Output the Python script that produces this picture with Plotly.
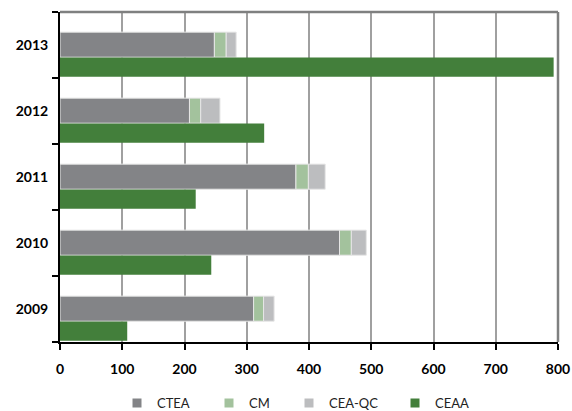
import plotly.graph_objects as go

years = ["2009", "2010", "2011", "2012", "2013"]
ctea = [311, 449, 379, 208, 248]
cm = [16, 19, 20, 18, 19]
cea_qc = [17, 24, 27, 31, 16]
ceaa = [108, 243, 218, 328, 793]
x_ticks = [0, 100, 200, 300, 400, 500, 600, 700, 800]
series_names = ["CTEA", "CM", "CEA-QC", "CEAA"]

pos = list(range(len(years)))
base_cm = ctea
base_qc = [a + b for a, b in zip(ctea, cm)]

c_ctea = "#838487"
c_cm = "#a3c29d"
c_qc = "#bcbdbf"
c_ceaa = "#437f3b"
colors = [c_ctea, c_cm, c_qc, c_ceaa]

stack_w, stack_off = 0.38, -0.185
g_w, g_off = 0.29, -0.48

fig = go.Figure()
outline = dict(color="#e6e6e6", width=1)
fig.add_trace(go.Bar(y=pos, x=ctea, orientation="h", name="CTEA", showlegend=False,
                     marker=dict(color=c_ctea, line=outline), width=stack_w, offset=stack_off))
fig.add_trace(go.Bar(y=pos, x=cm, base=base_cm, orientation="h", name="CM", showlegend=False,
                     marker=dict(color=c_cm, line=outline), width=stack_w, offset=stack_off))
fig.add_trace(go.Bar(y=pos, x=cea_qc, base=base_qc, orientation="h", name="CEA-QC", showlegend=False,
                     marker=dict(color=c_qc, line=outline), width=stack_w, offset=stack_off))
fig.add_trace(go.Bar(y=pos, x=ceaa, orientation="h", name="CEAA", showlegend=False,
                     marker=dict(color=c_ceaa, line=dict(width=0)), width=g_w, offset=g_off))

# legend entries (one legend per entry so spacing matches the original)
legend_names = ["legend", "legend2", "legend3", "legend4"]
text_starts_px = [157, 249, 329, 435]
plot_left, plot_w = 60, 498
for name, col, lg in zip(series_names, colors, legend_names):
    fig.add_trace(go.Scatter(x=[None], y=[None], mode="markers", name=name, legend=lg,
                             marker=dict(symbol="square", size=9, color=col), showlegend=True))

legend_common = dict(orientation="h", y=-0.185, yanchor="middle", xanchor="left",
                     font=dict(size=13, color="#222222"), itemwidth=30,
                     bgcolor="rgba(0,0,0,0)", borderwidth=0)
legend_layout = {}
for lg, tx in zip(legend_names, text_starts_px):
    legend_layout[lg] = dict(legend_common, x=(tx - 40 - plot_left) / plot_w)

fig.update_layout(
    barmode="overlay",
    width=572, height=411,
    margin=dict(l=60, r=14, t=12, b=69, autoexpand=False),
    paper_bgcolor="white", plot_bgcolor="white",
    font=dict(family="Lato, 'Open Sans', sans-serif", size=13, color="#000000"),
    xaxis=dict(range=[0, 800], tickvals=x_ticks, showgrid=True, gridcolor="#a0a0a0",
               gridwidth=1.5, showline=True, linecolor="#000000", linewidth=2,
               ticks="outside", ticklen=6, tickcolor="#000000", tickwidth=2,
               ticklabelstandoff=7,
               tickfont=dict(size=14, family="Lato, sans-serif", weight="bold"),
               zeroline=False, fixedrange=True, automargin=False),
    yaxis=dict(range=[-0.5, 4.5], tickvals=pos, ticktext=years, showgrid=False,
               showline=True, linecolor="#000000", linewidth=2,
               ticks="", ticklabelstandoff=7,
               tickfont=dict(size=14, family="Lato, sans-serif", weight="bold"),
               minor=dict(tickvals=[-0.5, 0.5, 1.5, 2.5, 3.5, 4.5], ticks="outside",
                          ticklen=6, tickcolor="#000000", tickwidth=2, showgrid=False),
               zeroline=False, fixedrange=True, automargin=False),
    shapes=[
        dict(type="line", xref="paper", yref="paper", x0=0, x1=1, y0=1, y1=1,
             line=dict(color="#7f8080", width=2.5)),
        dict(type="line", xref="paper", yref="paper", x0=1, x1=1, y0=0, y1=1,
             line=dict(color="#7f8080", width=2.5)),
    ],
    **legend_layout,
)

fig.write_html("out.html", config={"displayModeBar": False},
               post_script="document.body.style.margin='0';document.body.style.overflow='hidden';")
